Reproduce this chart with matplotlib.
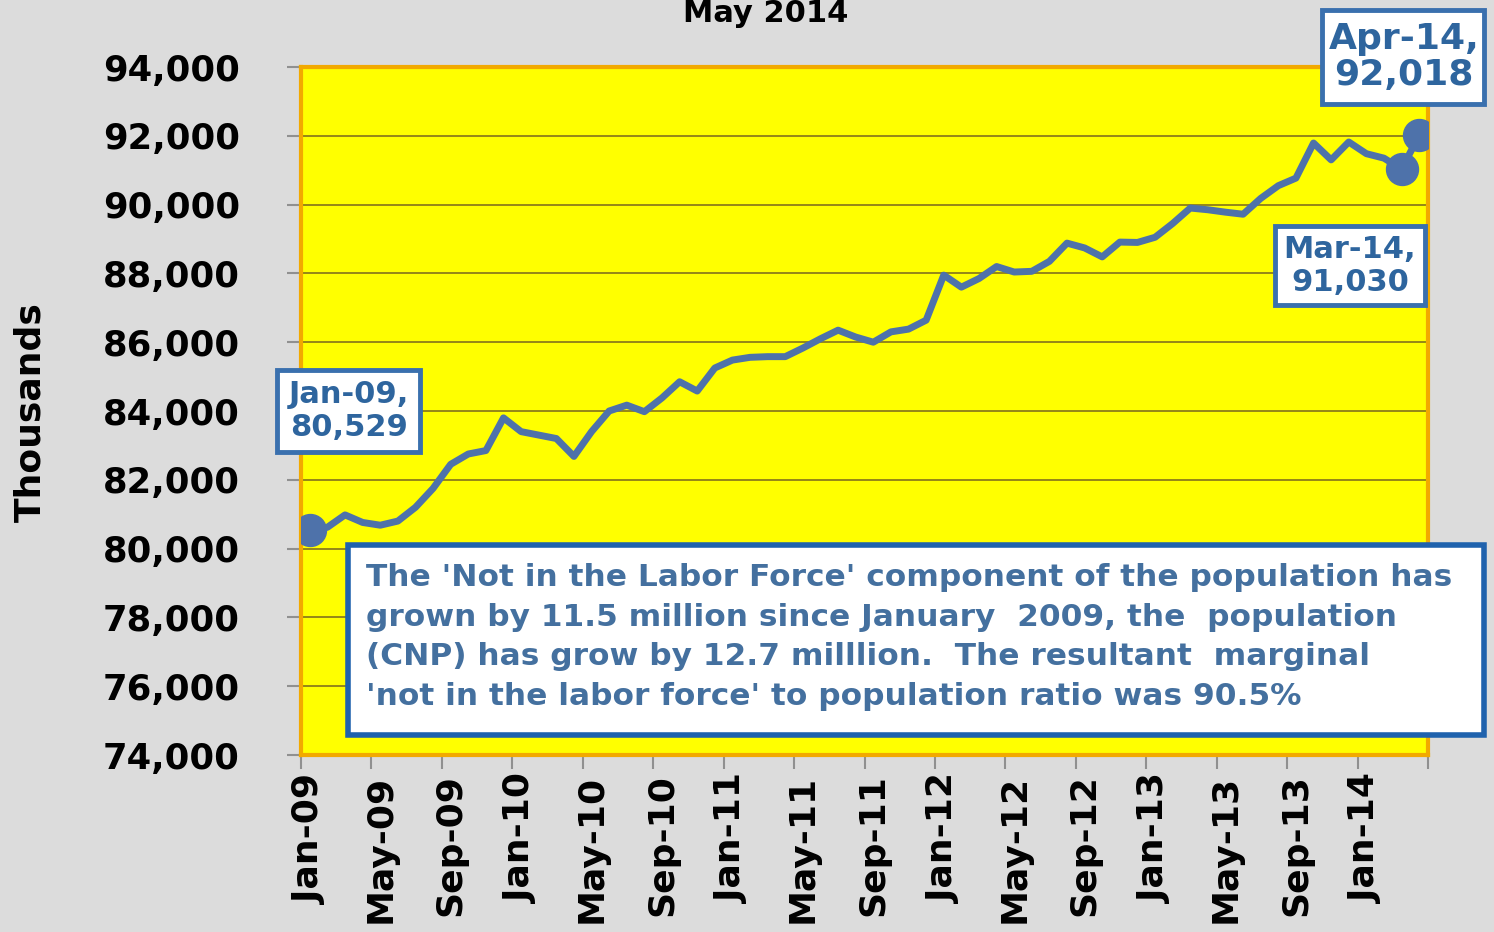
import numpy as np
import matplotlib
matplotlib.use("Agg")
import matplotlib.pyplot as plt
from matplotlib.patches import Rectangle

# monthly 'not in labor force', thousands, Jan-09 .. Apr-14
values = [
    80529, 80620, 80980, 80760, 80680, 80800, 81200, 81750, 82450, 82750, 82850, 83800,
    83400, 83300, 83200, 82680, 83400, 84000, 84170, 83980, 84380, 84850, 84580, 85250,
    85480, 85560, 85580, 85580, 85830, 86100, 86350, 86150, 86000, 86300, 86380, 86640,
    87950, 87600, 87850, 88200, 88040, 88060, 88350, 88880, 88740, 88480, 88910, 88900,
    89050, 89450, 89900, 89850, 89780, 89720, 90180, 90550, 90770, 91790, 91300, 91820,
    91480, 91350, 91030, 92018,
]
tick_labels = ["Jan-09", "May-09", "Sep-09", "Jan-10", "May-10", "Sep-10", "Jan-11",
               "May-11", "Sep-11", "Jan-12", "May-12", "Sep-12", "Jan-13", "May-13",
               "Sep-13", "Jan-14"]
y_ticks = list(range(74000, 94001, 2000))
highlight = [0, 62, 63]   # Jan-09, Mar-14, Apr-14

BG = "#dcdcdc"
LINE = "#4e72aa"
TXT = "#2e659e"
EDGE = "#3a70ae"

fig = plt.figure(figsize=(14.94, 9.32), dpi=100, facecolor=BG)
ax = fig.add_axes([301 / 1494, 1 - 755 / 932, 1127 / 1494, 688 / 932])
ax.set_facecolor("#ffff00")

x = np.arange(len(values))
ax.plot(x, values, color=LINE, lw=5, solid_joinstyle="round", zorder=3)
ax.plot(x[highlight], np.array(values)[highlight], "o", color=LINE,
        markersize=23, zorder=4)

ax.set_xlim(-0.5, len(values) - 0.5)
ax.set_ylim(74000, 94000)
ax.set_yticks(y_ticks)
ax.set_yticklabels([f"{v:,}" for v in y_ticks])
ax.grid(True, axis="y", color="#8c7d1a", lw=1.3, zorder=1)

ax.set_xticks(np.arange(0, len(values), 4))
ax.set_xticklabels(tick_labels, rotation=90)
ax.set_xticks(np.arange(-0.5, len(values), 4), minor=True)
ax.tick_params(axis="x", which="major", length=0, pad=14)
ax.tick_params(axis="x", which="minor", length=10, color="#909090", width=1.5)
ax.tick_params(axis="y", length=10, color="#909090", width=1.5, pad=34)
for lab in ax.get_xticklabels():
    lab.set_fontweight("bold")
    lab.set_fontsize(26)
for lab in ax.get_yticklabels():
    lab.set_fontweight("bold")
    lab.set_fontsize(25.5)

for sp in ax.spines.values():
    sp.set_color("#f2a900")
    sp.set_linewidth(3)

fig.text(30 / 1494, 1 - 412 / 932, "Thousands", rotation=90, fontsize=26,
         fontweight="bold", ha="center", va="center")
fig.text(766 / 1494, 1 - 13 / 932, "May 2014", fontsize=22, fontweight="bold",
         ha="center", va="center")


def box(x0, y0, x1, y1, color, lw):
    r = Rectangle((x0 / 1494, 1 - y1 / 932), (x1 - x0) / 1494, (y1 - y0) / 932,
                  transform=fig.transFigure, facecolor="white", edgecolor=color,
                  lw=lw, zorder=5)
    fig.patches.append(r)


# data callouts
box(277, 370, 420, 452, EDGE, 3.5)
fig.text(349 / 1494, 1 - 411 / 932, "Jan-09,\n80,529", fontsize=22, fontweight="bold",
         color=TXT, ha="center", va="center", linespacing=1.15, zorder=6)
box(1322, 10, 1484, 104, EDGE, 3.5)
fig.text(1404 / 1494, 1 - 57 / 932, "Apr-14,\n92,018", fontsize=26, fontweight="bold",
         color=TXT, ha="center", va="center", linespacing=1.1, zorder=6)
box(1275, 226, 1425, 305, EDGE, 3.5)
fig.text(1350 / 1494, 1 - 266 / 932, "Mar-14,\n91,030", fontsize=22, fontweight="bold",
         color=TXT, ha="center", va="center", linespacing=1.15, zorder=6)

# note box
note = ("The 'Not in the Labor Force' component of the population has\n"
        "grown by 11.5 million since January  2009, the  population\n"
        "(CNP) has grow by 12.7 milllion.  The resultant  marginal\n"
        "'not in the labor force' to population ratio was 90.5%")
box(348, 545, 1484, 735, "#1f62ad", 4)
fig.text(366 / 1494, 1 - 637 / 932, note, fontsize=22.5, fontweight="bold",
         color="#44709f", ha="left", va="center", linespacing=1.45, zorder=6)

fig.savefig("out.png", dpi=100, facecolor=BG)
